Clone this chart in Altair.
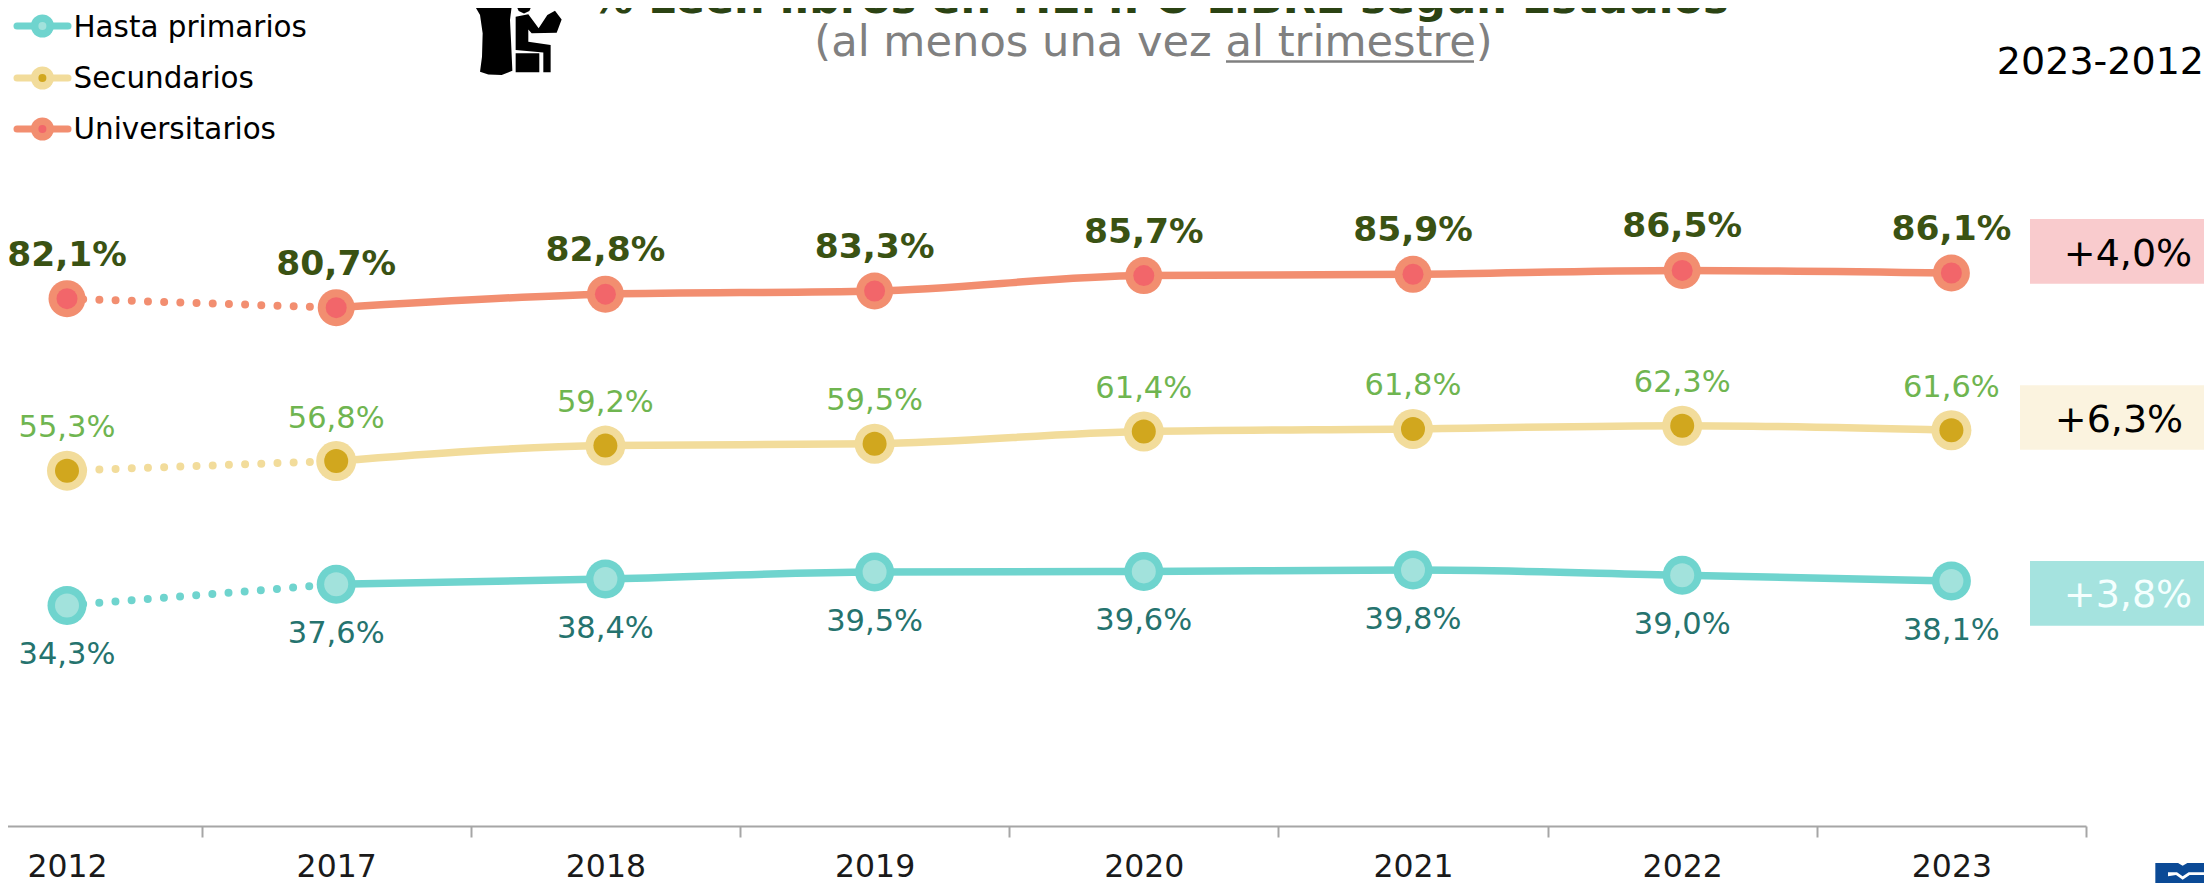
import altair as alt
import pandas as pd

FONT = "DejaVu Sans"
years = ["2012", "2017", "2018", "2019", "2020", "2021", "2022", "2023"]
primarios = [34.3, 37.6, 38.4, 39.5, 39.6, 39.8, 39.0, 38.1]
secundarios = [55.3, 56.8, 59.2, 59.5, 61.4, 61.8, 62.3, 61.6]
universitarios = [82.1, 80.7, 82.8, 83.3, 85.7, 85.9, 86.5, 86.1]
deltas = ["+3,8%", "+6,3%", "+4,0%"]
series_names = ["Hasta primarios", "Secundarios", "Universitarios"]
title_text = "% Leen libros en TIEMPO LIBRE según Estudios"
subtitle_text = "(al menos una vez al trimestre)"
range_text = "2023-2012"

one = pd.DataFrame({"a": [0]})


def P(v):
    """Page pixel to chart pixel (the page has an 8px margin)."""
    return v - 8


def shape_path(points, cx, cy, half):
    parts = [f"{(x - cx) / half:.3f} {(y - cy) / half:.3f}" for x, y in points]
    return "M " + " L ".join(parts) + " Z"


def deco(mark):
    return alt.Chart(one).mark_point(filled=True, opacity=1, strokeWidth=0, **mark)


x_enc = alt.X(
    "year:N",
    sort=years,
    scale=alt.Scale(type="band", domain=years, range=[-75.6, 2078.0], paddingInner=0, paddingOuter=0),
    axis=alt.Axis(
        title=None,
        labelAngle=0,
        labelFont=FONT,
        labelFontSize=31.5,
        labelColor="#1a1a1a",
        labelPadding=14.5,
        domainColor="#a6a6a6",
        domainWidth=2,
        tickColor="#a6a6a6",
        tickWidth=2,
        tickSize=11,
        tickBand="extent",
        grid=False,
    ),
)
y_enc = alt.Y("value:Q", scale=alt.Scale(domain=[-0.08, 127.4], nice=False, zero=False), axis=None)

styles = [
    dict(name=series_names[0], values=primarios, line="#6fd4ce", inner="#a2e2dc", outer_d=39, inner_d=24,
         label="#25736e", bold=False, size=30.5, dy=58.5, legend_y=26, text_y=37, box=(2030, 561, 625.7),
         dtext=deltas[0], dcolor="#f4fffe", dbase=607.3, dx=2128, fill="#a5e3df"),
    dict(name=series_names[1], values=secundarios, line="#f2dc9b", inner="#d1a71e", outer_d=40, inner_d=24,
         label="#6fb550", bold=False, size=30.5, dy=-33.5, legend_y=78, text_y=88.3, box=(2020, 385.3, 449.7),
         dtext=deltas[1], dcolor="#000000", dbase=431.7, dx=2119, fill="#fbf3df"),
    dict(name=series_names[2], values=universitarios, line="#f28e70", inner="#f2666a", outer_d=37, inner_d=21,
         label="#3a5213", bold=True, size=34.5, dy=-33, legend_y=129, text_y=139.3, box=(2030, 219, 283.7),
         dtext=deltas[2], dcolor="#000000", dbase=266, dx=2128, fill="#f9cbcd"),
]

layers = []

# Chart marks
for s in styles:
    df = pd.DataFrame({"year": years, "value": s["values"]})
    df["label"] = [f"{v:.1f}%".replace(".", ",") for v in s["values"]]
    base = alt.Chart(df).encode(x=x_enc, y=y_enc)
    layers.append(
        alt.Chart(df.iloc[:2]).mark_line(color=s["line"], strokeWidth=8, strokeCap="round", strokeDash=[0, 16.2])
        .encode(x=x_enc, y=y_enc)
    )
    layers.append(
        alt.Chart(df.iloc[1:]).mark_line(color=s["line"], strokeWidth=7.5, interpolate="monotone")
        .encode(x=x_enc, y=y_enc)
    )
    layers.append(base.mark_point(filled=True, opacity=1, strokeWidth=0, color=s["line"], size=s["outer_d"] ** 2))
    layers.append(base.mark_point(filled=True, opacity=1, strokeWidth=0, color=s["inner"], size=s["inner_d"] ** 2))
    layers.append(
        base.mark_text(
            font=FONT, fontSize=s["size"], fontWeight="bold" if s["bold"] else "normal",
            color=s["label"], dy=s["dy"], baseline="alphabetic", align="center",
        ).encode(text="label:N")
    )

    # change box
    left, top, bottom = s["box"]
    layers.append(
        alt.Chart(one).mark_rect(color=s["fill"]).encode(
            x=alt.value(P(left)), x2=alt.value(P(2212)), y=alt.value(P(top)), y2=alt.value(P(bottom))
        )
    )
    layers.append(
        alt.Chart(one).mark_text(
            text=s["dtext"], font=FONT, fontSize=38, color=s["dcolor"], baseline="alphabetic", align="center"
        ).encode(x=alt.value(P(s["dx"])), y=alt.value(P(s["dbase"])))
    )

    # legend
    ly = P(s["legend_y"])
    layers.append(
        alt.Chart(one).mark_rule(color=s["line"], strokeWidth=7, strokeCap="round").encode(
            x=alt.value(P(17)), x2=alt.value(P(68)), y=alt.value(ly)
        )
    )
    layers.append(
        deco(dict(color=s["line"], size=23 ** 2)).encode(x=alt.value(P(42.4)), y=alt.value(ly))
    )
    layers.append(
        deco(dict(color=s["inner"], size=8 ** 2)).encode(x=alt.value(P(42.4)), y=alt.value(ly))
    )
    layers.append(
        alt.Chart(one).mark_text(
            text=s["name"], font=FONT, fontSize=29.4, color="#000000", baseline="alphabetic", align="left"
        ).encode(x=alt.value(P(73.5)), y=alt.value(P(s["text_y"])))
    )

# Title block
layers.append(
    alt.Chart(one).mark_text(
        text=title_text, font=FONT, fontSize=43, fontWeight="bold", color="#2b4313",
        baseline="alphabetic", align="center",
    ).encode(x=alt.value(P(1159.5)), y=alt.value(P(13)))
)
layers.append(
    alt.Chart(one).mark_text(
        text=subtitle_text, font=FONT, fontSize=43.2, color="#808080", baseline="alphabetic", align="center"
    ).encode(x=alt.value(P(1153.5)), y=alt.value(P(56)))
)
layers.append(
    alt.Chart(one).mark_rule(color="#808080", strokeWidth=2.5).encode(
        x=alt.value(P(1226)), x2=alt.value(P(1474)), y=alt.value(P(61.5))
    )
)
layers.append(
    alt.Chart(one).mark_text(
        text=range_text, font=FONT, fontSize=38, color="#000000", baseline="alphabetic", align="right"
    ).encode(x=alt.value(P(2204)), y=alt.value(P(74)))
)

# Reader-under-a-tree icon (outlines in zoomed reference coordinates, 3x)
tree = [(15, -20), (40, 10), (60, 45), (68, 100), (66, 170), (60, 215), (85, 223), (125, 225), (157, 212),
        (153, 120), (150, 60), (160, -20), (95, -20), (85, 5), (72, 12), (55, -20)]
body = [(167, 50), (205, 43), (236, 85), (262, 45), (285, 32), (305, 58), (290, 98), (215, 100), (205, 88),
        (205, 125), (272, 135), (272, 217), (250, 217), (250, 157), (167, 150)]
seat = [(167, 160), (238, 160), (238, 217), (167, 217)]
head = [(169, 17), (176, 1), (192, -6), (208, 1), (215, 17), (208, 33), (192, 40), (176, 33)]
icon = " ".join(shape_path(p, 165, 110, 165) for p in [tree, body, seat, head])
layers.append(deco(dict(color="#000000", size=110 ** 2, shape=icon)).encode(x=alt.value(P(515)), y=alt.value(P(36.7))))

# Logo (outlines in zoomed reference coordinates, 3x)
logo_blue = [(40, 30), (108, 30), (122, 38), (136, 30), (210, 30), (210, 120), (40, 120)]
logo_white = [(78, 58), (105, 58), (122, 70), (140, 58), (210, 58), (210, 66), (143, 66), (122, 80), (102, 66), (78, 70)]
layers.append(deco(dict(color="#0b4a96", size=60 ** 2, shape=shape_path(logo_blue, 120, 60, 90)))
              .encode(x=alt.value(P(2182)), y=alt.value(P(873))))
layers.append(deco(dict(color="#ffffff", size=60 ** 2, shape=shape_path(logo_white, 120, 60, 90)))
              .encode(x=alt.value(P(2182)), y=alt.value(P(873))))

chart = (
    alt.layer(*layers)
    .properties(
        width=2196,
        height=818,
        padding={"left": 0, "top": 0, "right": 0, "bottom": 57},
        autosize=alt.AutoSizeParams(type="none"),
        background="#ffffff",
    )
    .configure_view(stroke=None)
)
chart.save("out.html", embed_options={"renderer": "svg", "actions": False})
